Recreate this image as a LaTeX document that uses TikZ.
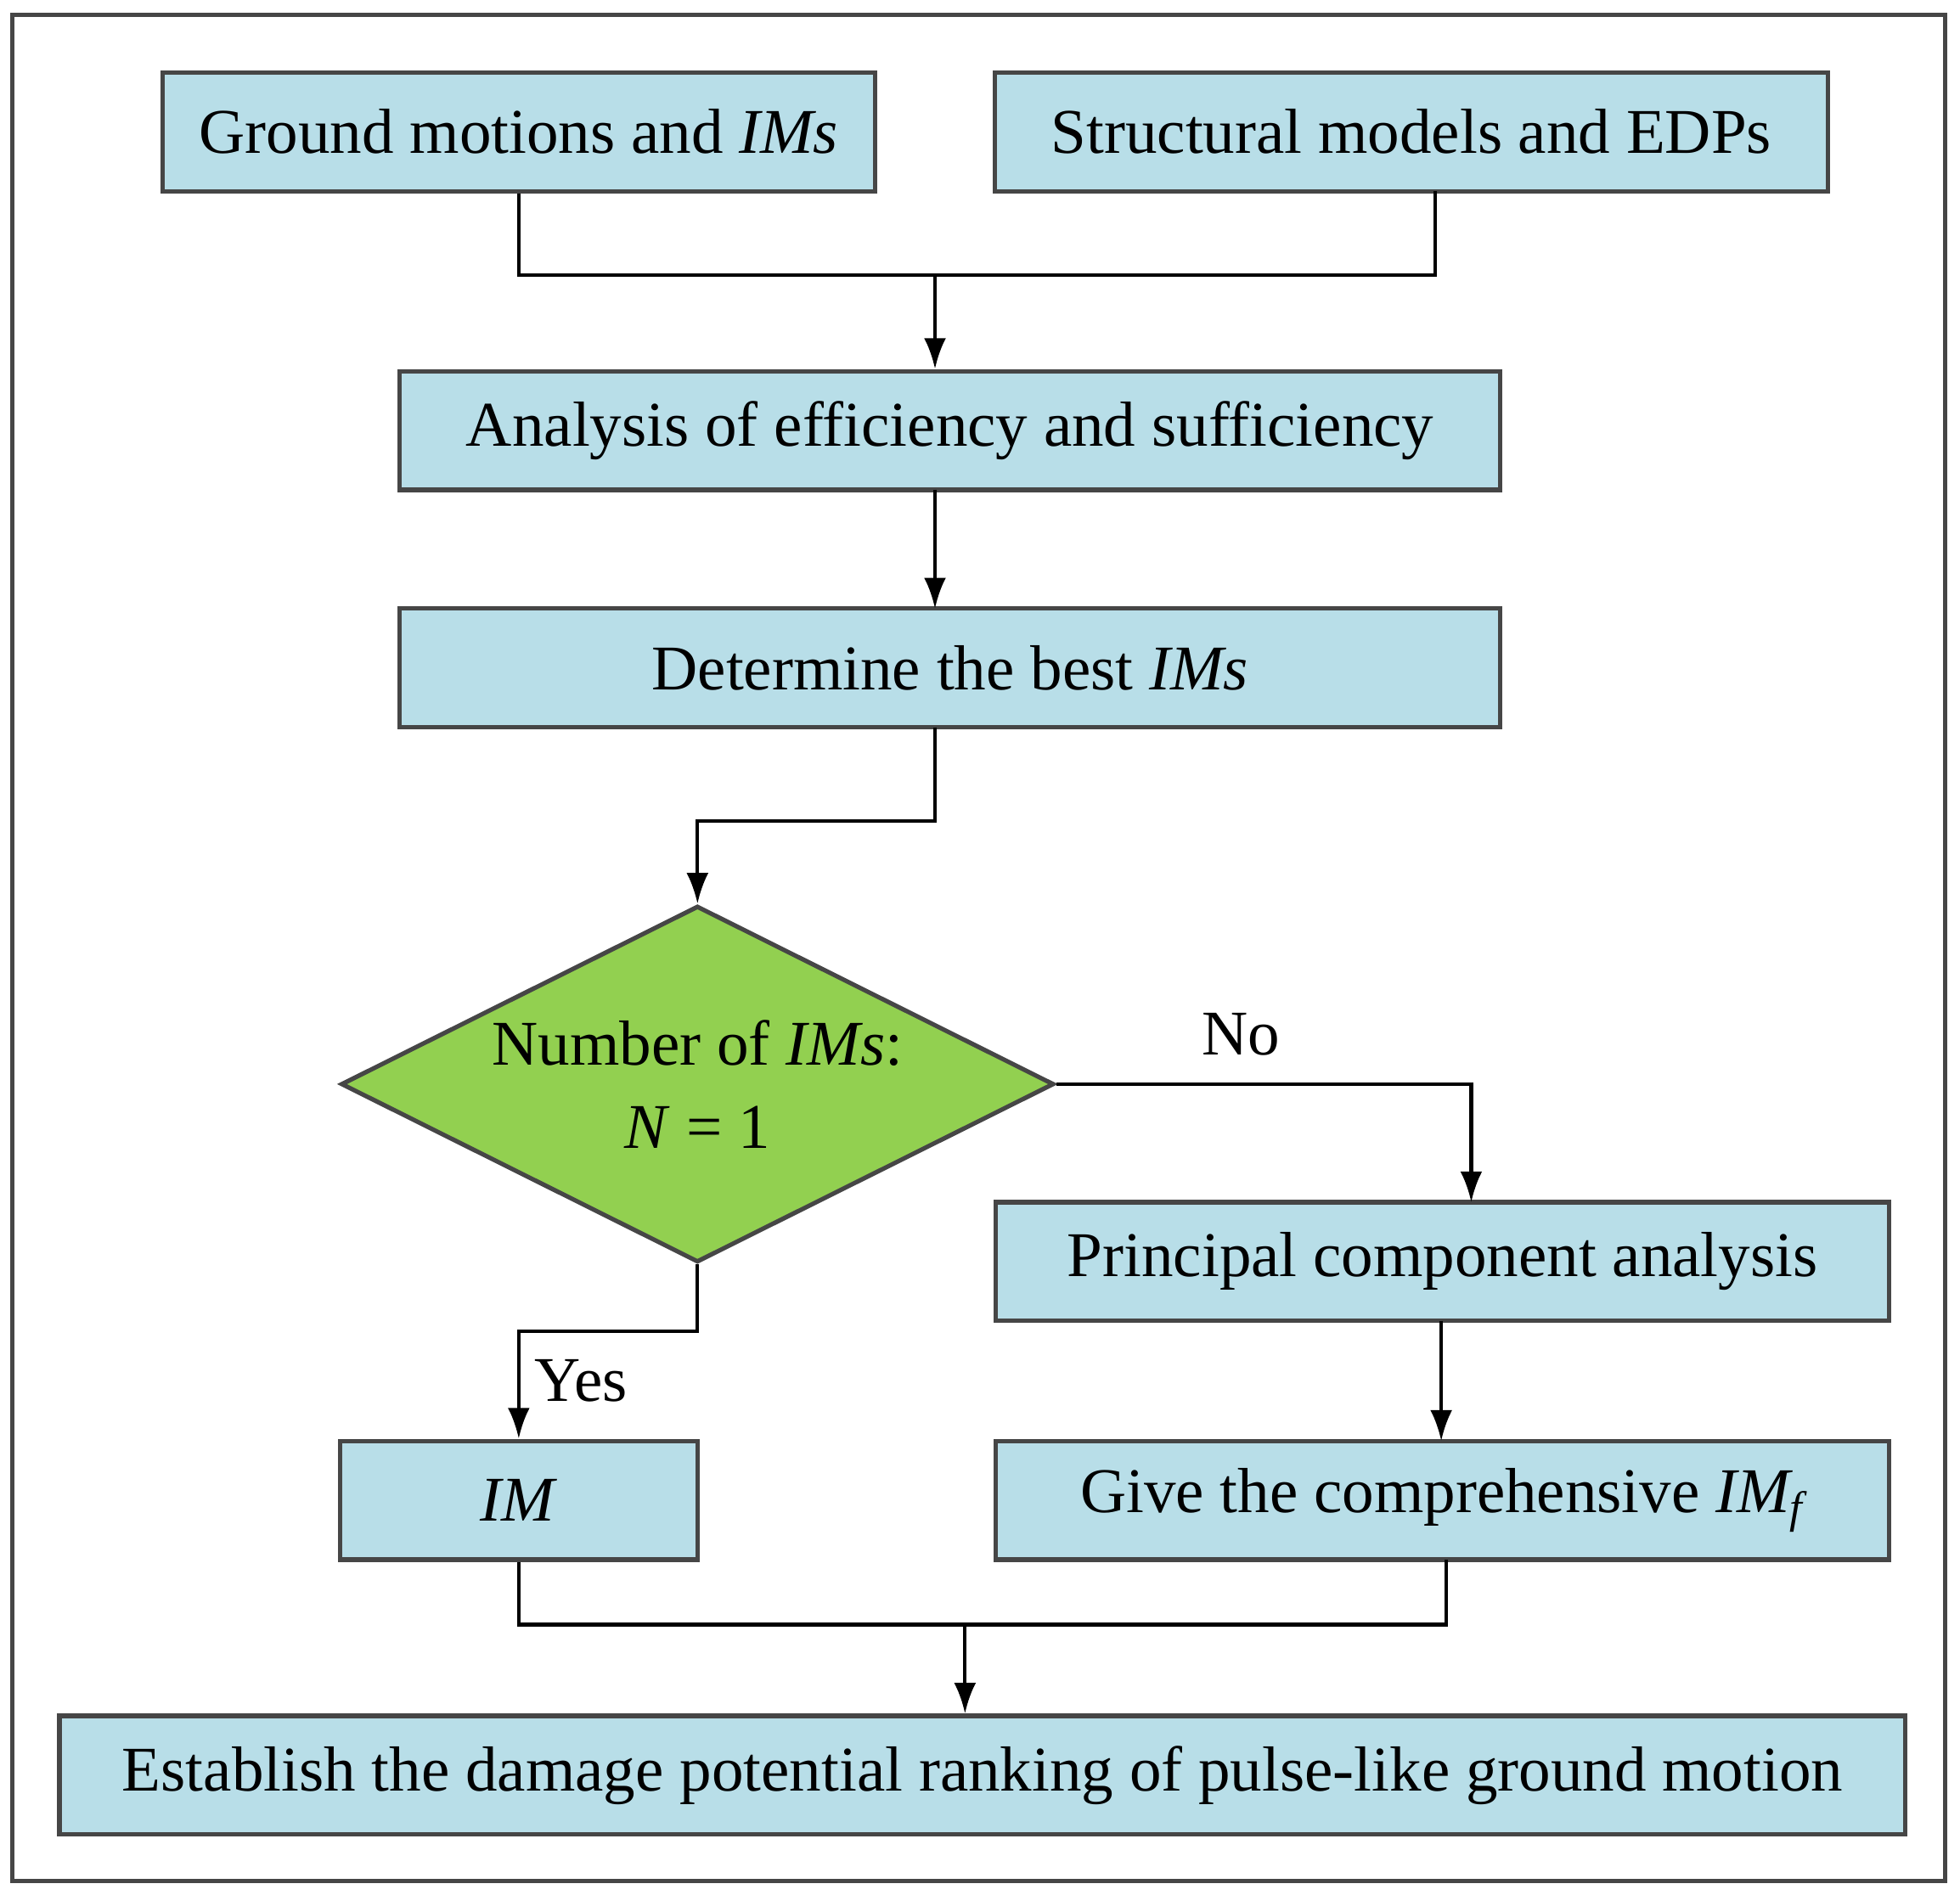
\documentclass[tikz,border=0pt]{standalone}
\usepackage{fontspec}
\setmainfont{Liberation Serif}
\usetikzlibrary{shapes.geometric,arrows.meta}
\definecolor{boxblue}{RGB}{184,222,232}
\definecolor{dgreen}{RGB}{146,208,80}
\definecolor{edge}{RGB}{70,70,70}
\begin{document}
\begin{tikzpicture}[x=0.01cm,y=-0.01cm,
  box/.style={draw=edge,line width=1pt,fill=boxblue,minimum height=0.95cm,inner sep=0pt,font=\fontsize{14.5}{17}\selectfont},
  arr/.style={draw=black,line width=0.8pt,-{Latex[length=7pt,width=5pt]}},
  ln/.style={draw=black,line width=0.8pt}]
\useasboundingbox (0,0) rectangle (1568,1516);
\draw[line width=1pt,edge] (10,12) rectangle (1556,1505);
\node[box,minimum width=5.7cm] (b1) at (415,105.5) {Ground motions and \textit{IMs}};
\node[box,minimum width=6.66cm] (b2) at (1129,105.5) {Structural models and EDPs};
\node[box,minimum width=8.8cm] (b3) at (760,344.5) {Analysis of efficiency and sufficiency};
\node[box,minimum width=8.8cm] (b4) at (760,534.5) {Determine the best \textit{IMs}};
\node[diamond,aspect=2,draw=edge,line width=1pt,fill=dgreen,minimum width=5.7cm,minimum height=2.85cm,inner sep=0pt,align=center,font=\fontsize{14.5}{19}\selectfont] (d) at (558,867.5) {Number of \textit{IMs}:\\\textit{N} = 1};
\node[box,minimum width=7.14cm] (b5) at (1154,1009.5) {Principal component analysis};
\node[box,minimum width=7.14cm] (b6) at (1154,1200.5) {Give the comprehensive \textit{IM\textsubscript{f}}};
\node[box,minimum width=2.86cm] (im) at (415,1200.5) {\textit{IM}};
\node[box,minimum width=14.76cm] (b7) at (786,1420.5) {Establish the damage potential ranking of pulse-like ground motion};
\coordinate (m1) at (748,220);
\coordinate (b2s) at (1148,153);
\draw[ln] (b1.south) |- (m1) -| (b2s);
\draw[arr] (m1) -- (m1 |- b3.north);
\draw[arr] (748,392) -- (748,487);
\draw[arr] (748,582) |- (558,657) -- (d.north);
\draw[arr] (d.east) -| (1177,962);
\node[font=\fontsize{14.5}{17}\selectfont] (no) at (993,828) {No};
\draw[arr] (1153,1057) -- (1153,1153);
\draw[arr] (d.south) |- (415,1065) -- (im.north);
\node[font=\fontsize{14.5}{17}\selectfont] (yes) at (465,1105) {Yes};
\coordinate (m2) at (772,1300);
\draw[ln] (im.south) |- (m2) -| (1157,1248);
\draw[arr] (m2) -- (b7.north -| m2);
\end{tikzpicture}
\end{document}
